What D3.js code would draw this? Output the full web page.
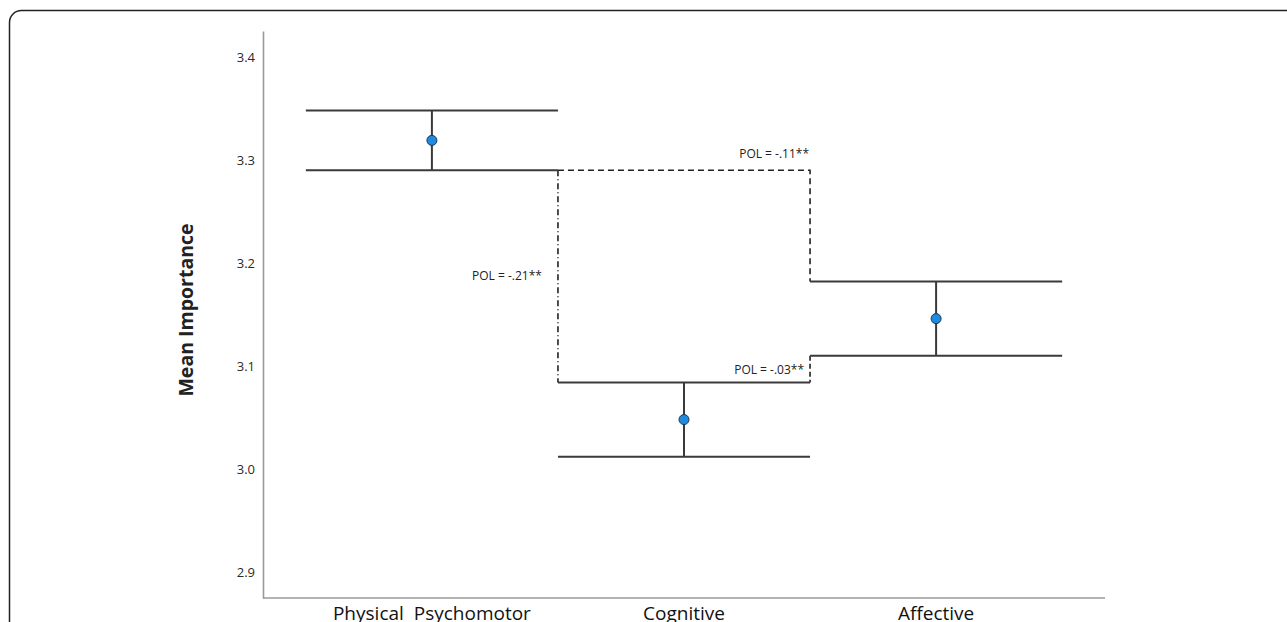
<!DOCTYPE html>
<html>
<head>
<meta charset="utf-8">
<script src="https://cdn.jsdelivr.net/npm/d3@7.9.0/dist/d3.min.js"></script>
<style>
  html, body { margin: 0; padding: 0; background: #fff; overflow: hidden; }
  svg { display: block; }
  text { font-family: "Open Sans", "DejaVu Sans", sans-serif; fill: #222; }
</style>
</head>
<body>
<svg id="chart" width="1287" height="622"></svg>
<script>
// chart data
const categories = ['Physical  Psychomotor', 'Cognitive', 'Affective'];
const means = [3.319, 3.048, 3.146];
const lower = [3.290, 3.012, 3.110];
const upper = [3.348, 3.084, 3.182];
const yTicks = [2.9, 3.0, 3.1, 3.2, 3.3, 3.4];

// POL comparison labels
const polLabels = ['POL = -.21**', 'POL = -.11**', 'POL = -.03**'];

const svg = d3.select('#chart');

// outer rounded frame (cut off at the right and bottom)
svg.append('rect')
  .attr('x', 9.5).attr('y', 10.5)
  .attr('width', 1300).attr('height', 660)
  .attr('rx', 12)
  .attr('fill', 'none')
  .attr('stroke', '#222')
  .attr('stroke-width', 1.5);

const x = d3.scaleBand()
  .domain(categories)
  .range([263, 1105])
  .paddingInner(0)
  .paddingOuter(0.17);

const y = d3.scaleLinear()
  .domain([2.8748, 3.4252])
  .range([598, 31]);

const cx = (i) => x(categories[i]) + x.bandwidth() / 2;

// axes
const yAxis = svg.append('g')
  .attr('transform', 'translate(263,0)')
  .call(d3.axisLeft(y).tickValues(yTicks).tickFormat(d3.format('.1f')).tickSize(0).tickPadding(8));
yAxis.select('.domain').attr('stroke', '#9a9a9a').attr('stroke-width', 1.6);
yAxis.selectAll('text').attr('font-size', 13).style('fill', '#2a2a2a');

const xAxis = svg.append('g')
  .attr('transform', 'translate(0,598)')
  .call(d3.axisBottom(x).tickSize(0).tickPadding(9));
xAxis.select('.domain').attr('stroke', '#9a9a9a').attr('stroke-width', 1.6)
  .attr('d', 'M263,0H1105');
xAxis.selectAll('text').attr('font-size', 19).style('fill', '#111').style('white-space', 'pre');

// y title
svg.append('text')
  .attr('transform', 'translate(193,310) rotate(-90)')
  .attr('text-anchor', 'middle')
  .attr('font-size', 19.5)
  .attr('font-weight', 'bold')
  .text('Mean Importance');

// connectors between error bars
const conn = svg.append('g').attr('fill', 'none').attr('stroke', '#222').attr('stroke-width', 1.6);
const xL = x(categories[1]);
const xR = x(categories[2]);
// Physical lower -> Cognitive upper (dash-dot)
conn.append('line')
  .attr('x1', xL).attr('x2', xL)
  .attr('y1', y(lower[0])).attr('y2', y(upper[1]))
  .attr('stroke-dasharray', '6,3,1,3');
// Physical lower -> Affective upper (dashed)
conn.append('path')
  .attr('d', `M${xL},${y(lower[0])}H${xR}V${y(upper[2])}`)
  .attr('stroke-dasharray', '6,4');
// Affective lower -> Cognitive upper (dashed)
conn.append('line')
  .attr('x1', xR).attr('x2', xR)
  .attr('y1', y(lower[2])).attr('y2', y(upper[1]))
  .attr('stroke-dasharray', '5,3');

// POL labels
const labelPos = [
  { x: xL - 16, y: (y(lower[0]) + y(upper[1])) / 2 + 4 },
  { x: xR - 1, y: y(lower[0]) - 12 },
  { x: xR - 6, y: (y(lower[2]) + y(upper[1])) / 2 + 5 }
];
svg.selectAll('.pol')
  .data(polLabels)
  .join('text')
  .attr('class', 'pol')
  .attr('x', (d, i) => labelPos[i].x)
  .attr('y', (d, i) => labelPos[i].y)
  .attr('text-anchor', 'end')
  .attr('font-size', 12)
  .text((d) => d);

// error bars
const bars = svg.append('g').attr('stroke', '#3a3a3a').attr('stroke-width', 2);
categories.forEach((c, i) => {
  const x0 = x(c), x1 = x(c) + x.bandwidth();
  bars.append('line').attr('x1', x0).attr('x2', x1).attr('y1', y(upper[i])).attr('y2', y(upper[i]));
  bars.append('line').attr('x1', x0).attr('x2', x1).attr('y1', y(lower[i])).attr('y2', y(lower[i]));
  bars.append('line').attr('x1', cx(i)).attr('x2', cx(i)).attr('y1', y(upper[i])).attr('y2', y(lower[i]));
});

// mean markers
svg.selectAll('.mean')
  .data(means)
  .join('circle')
  .attr('class', 'mean')
  .attr('cx', (d, i) => cx(i))
  .attr('cy', (d) => y(d))
  .attr('r', 5)
  .attr('fill', '#1f8be0')
  .attr('stroke', '#1c3550')
  .attr('stroke-width', 1);
</script>
</body>
</html>
